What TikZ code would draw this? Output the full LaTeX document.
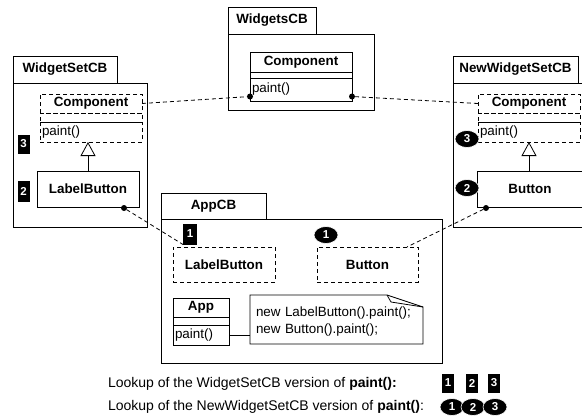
\documentclass[tikz,border=0pt]{standalone}
\usepackage{fontspec}
\setmainfont{Liberation Sans}
\usetikzlibrary{positioning,shapes.geometric,arrows.meta}

\begin{document}
\begin{tikzpicture}[x=1pt,y=-1pt,line width=.8pt,
  every node/.style={font=\fontsize{13.4}{16}\selectfont,outer sep=0pt},
  pkg/.style={draw,anchor=north west,inner sep=0pt},
  tab/.style={draw,anchor=south west,inner sep=0pt,minimum height=27pt,font=\fontsize{13.4}{16}\selectfont\bfseries},
  cname/.style={draw,inner sep=0pt,minimum height=19pt,font=\fontsize{13.4}{16}\selectfont\bfseries},
  cattr/.style={draw,inner sep=0pt,minimum height=9pt},
  cmeth/.style={draw,inner xsep=2pt,inner ysep=0pt,minimum height=20pt,text width=98pt,align=left},
  note/.style={inner xsep=6pt,inner ysep=0pt,minimum width=173pt,minimum height=44pt,text width=161pt,align=left,font=\fontsize{13.4}{17}\selectfont},
  dsh/.style={dash pattern=on 4pt off 3pt},
  conn/.style={draw,dash pattern=on 4pt off 3pt},
  dot/.style={circle,fill=black,inner sep=0pt,minimum size=6pt},
  sq/.style={fill=black,text=white,inner sep=0pt,minimum width=12pt,minimum height=19pt,font=\fontsize{11.5}{13}\selectfont\bfseries},
  rd/.style={ellipse,fill=black,draw=white,line width=.6pt,text=white,inner sep=0pt,minimum width=24pt,minimum height=17pt,font=\fontsize{11.5}{13}\selectfont\bfseries},
  legend/.style={inner sep=0pt,anchor=west,font=\fontsize{14}{17}\selectfont}]
  \useasboundingbox (0,0) rectangle (582,418);
  \clip (0,0) rectangle (582,418);
  % packages
  \node[pkg,minimum width=134pt,minimum height=144pt] (wsbody) at (13,83) {};
  \node[tab,minimum width=104pt] (wstab) at (wsbody.north west) {WidgetSetCB};
  \node[pkg,minimum width=146pt,minimum height=76pt] (wcbody) at (228,34) {};
  \node[tab,minimum width=88pt] (wctab) at (wcbody.north west) {WidgetsCB};
  \node[pkg,minimum width=140pt,minimum height=144pt] (nwbody) at (453,83) {};
  \node[tab,minimum width=125pt] (nwtab) at (nwbody.north west) {NewWidgetSetCB};
  \node[pkg,minimum width=281pt,minimum height=144pt] (acbody) at (161,219) {};
  \node[tab,minimum width=105pt,minimum height=26pt] (actab) at (acbody.north west) {AppCB};
  % WidgetsCB
  \node[cname,minimum width=102pt,minimum height=20pt,anchor=north west] (wcomp) at (250,52) {Component};
  \node[cattr,minimum width=102pt,minimum height=6pt,below=0pt of wcomp] (wcompa) {};
  \node[cmeth,minimum height=23pt,below=0pt of wcompa] (wcompm) {paint()};
  % WidgetSetCB
  \node[cname,dsh,minimum width=102pt,anchor=north west] (lcomp) at (40,94) {Component};
  \node[cattr,dsh,minimum width=102pt,below=0pt of lcomp] (lcompa) {};
  \node[cmeth,dsh,below=0pt of lcompa] (lcompm) {paint()};
  \node[cname,minimum width=102pt,minimum height=36pt,anchor=north west] (llb) at (37,171) {LabelButton};
  % NewWidgetSetCB
  \node[cname,dsh,minimum width=102pt,anchor=north west] (rcomp) at (478,94) {Component};
  \node[cattr,dsh,minimum width=102pt,below=0pt of rcomp] (rcompa) {};
  \node[cmeth,dsh,below=0pt of rcompa] (rcompm) {paint()};
  \node[cname,minimum width=106pt,minimum height=36pt,anchor=north west] (rbtn) at (477,171) {Button};
  % AppCB
  \node[cname,dsh,minimum width=102pt,minimum height=35pt,anchor=north west] (alb) at (173,247) {LabelButton};
  \node[cname,dsh,minimum width=101pt,minimum height=35pt,anchor=north west] (abtn) at (317,247) {Button};
  \node[cname,minimum width=56pt,anchor=north west] (app) at (173,298) {App};
  \node[cattr,minimum width=56pt,minimum height=8pt,below=0pt of app] (appa) {};
  \node[cmeth,text width=52pt,below=0pt of appa] (appm) {paint()};
  \node[note,anchor=north west] (nt) at (250,300) {new LabelButton().paint();\\new Button().paint();};
  \draw (nt.south west) -- ([yshift=5pt]nt.north west) -- ([xshift=-36pt,yshift=5pt]nt.north east)
    -- ([yshift=-7pt]nt.north east) -- (nt.south east) -- cycle;
  \draw ([xshift=-36pt,yshift=5pt]nt.north east) .. controls ([xshift=-34pt,yshift=1pt]nt.north east)
    .. ([xshift=-32pt,yshift=-2pt]nt.north east) -- ([yshift=-7pt]nt.north east);
  \draw (appm.east) -- (appm.east -| nt.west);
  % generalisation
  \draw[-{Triangle[open,width=15pt,length=14pt]}] (llb.north) -- (llb.north |- lcompm.south);
  \draw[-{Triangle[open,width=15pt,length=14pt]}] (rcompm.south |- rbtn.north) -- (rcompm.south);
  % lookup badges
  \node[sq] (s3) at (23.5,144) {3};
  \node[sq,minimum height=21pt] (s2) at (23.5,191) {2};
  \node[sq,minimum width=14pt,minimum height=21pt] (b1) at (190,234) {1};
  \node[rd] (c3) at (467,139) {3};
  \node[rd] (c2) at (467,188) {2};
  \node[rd] (c1) at (326,235) {1};
  % dependencies
  \node[dot] (dl) at ([yshift=-7pt]wcompm.west) {};
  \node[dot] (dr) at ([yshift=-7pt]wcompm.east) {};
  \node[dot] (dlb) at ([xshift=-15pt,yshift=-1pt]llb.south east) {};
  \node[dot] (dbt) at ([xshift=9pt,yshift=-1pt]rbtn.south west) {};
  \draw[conn] (lcomp.east) -- (dl);
  \draw[conn] (dr) -- (rcomp.west);
  \draw[conn] (dlb) -- (b1.south west);
  \draw[conn] (dbt) -- ([xshift=-11pt]abtn.north east);
  % legend
  \node[legend] (lg1) at (108,384) {Lookup of the WidgetSetCB version of \textbf{paint():}};
  \node[legend] (lg2) at (108,407) {Lookup of the NewWidgetSetCB version of \textbf{paint()}:};
  \node[sq] (lq1) at (448,383) {1};
  \node[sq] (lq2) at (472,383) {2};
  \node[sq] (lq3) at (494,383) {3};
  \node[rd] (lc1) at (452,407) {1};
  \node[rd] (lc2) at (473,407) {2};
  \node[rd] (lc3) at (495,407) {3};
\end{tikzpicture}
\end{document}
